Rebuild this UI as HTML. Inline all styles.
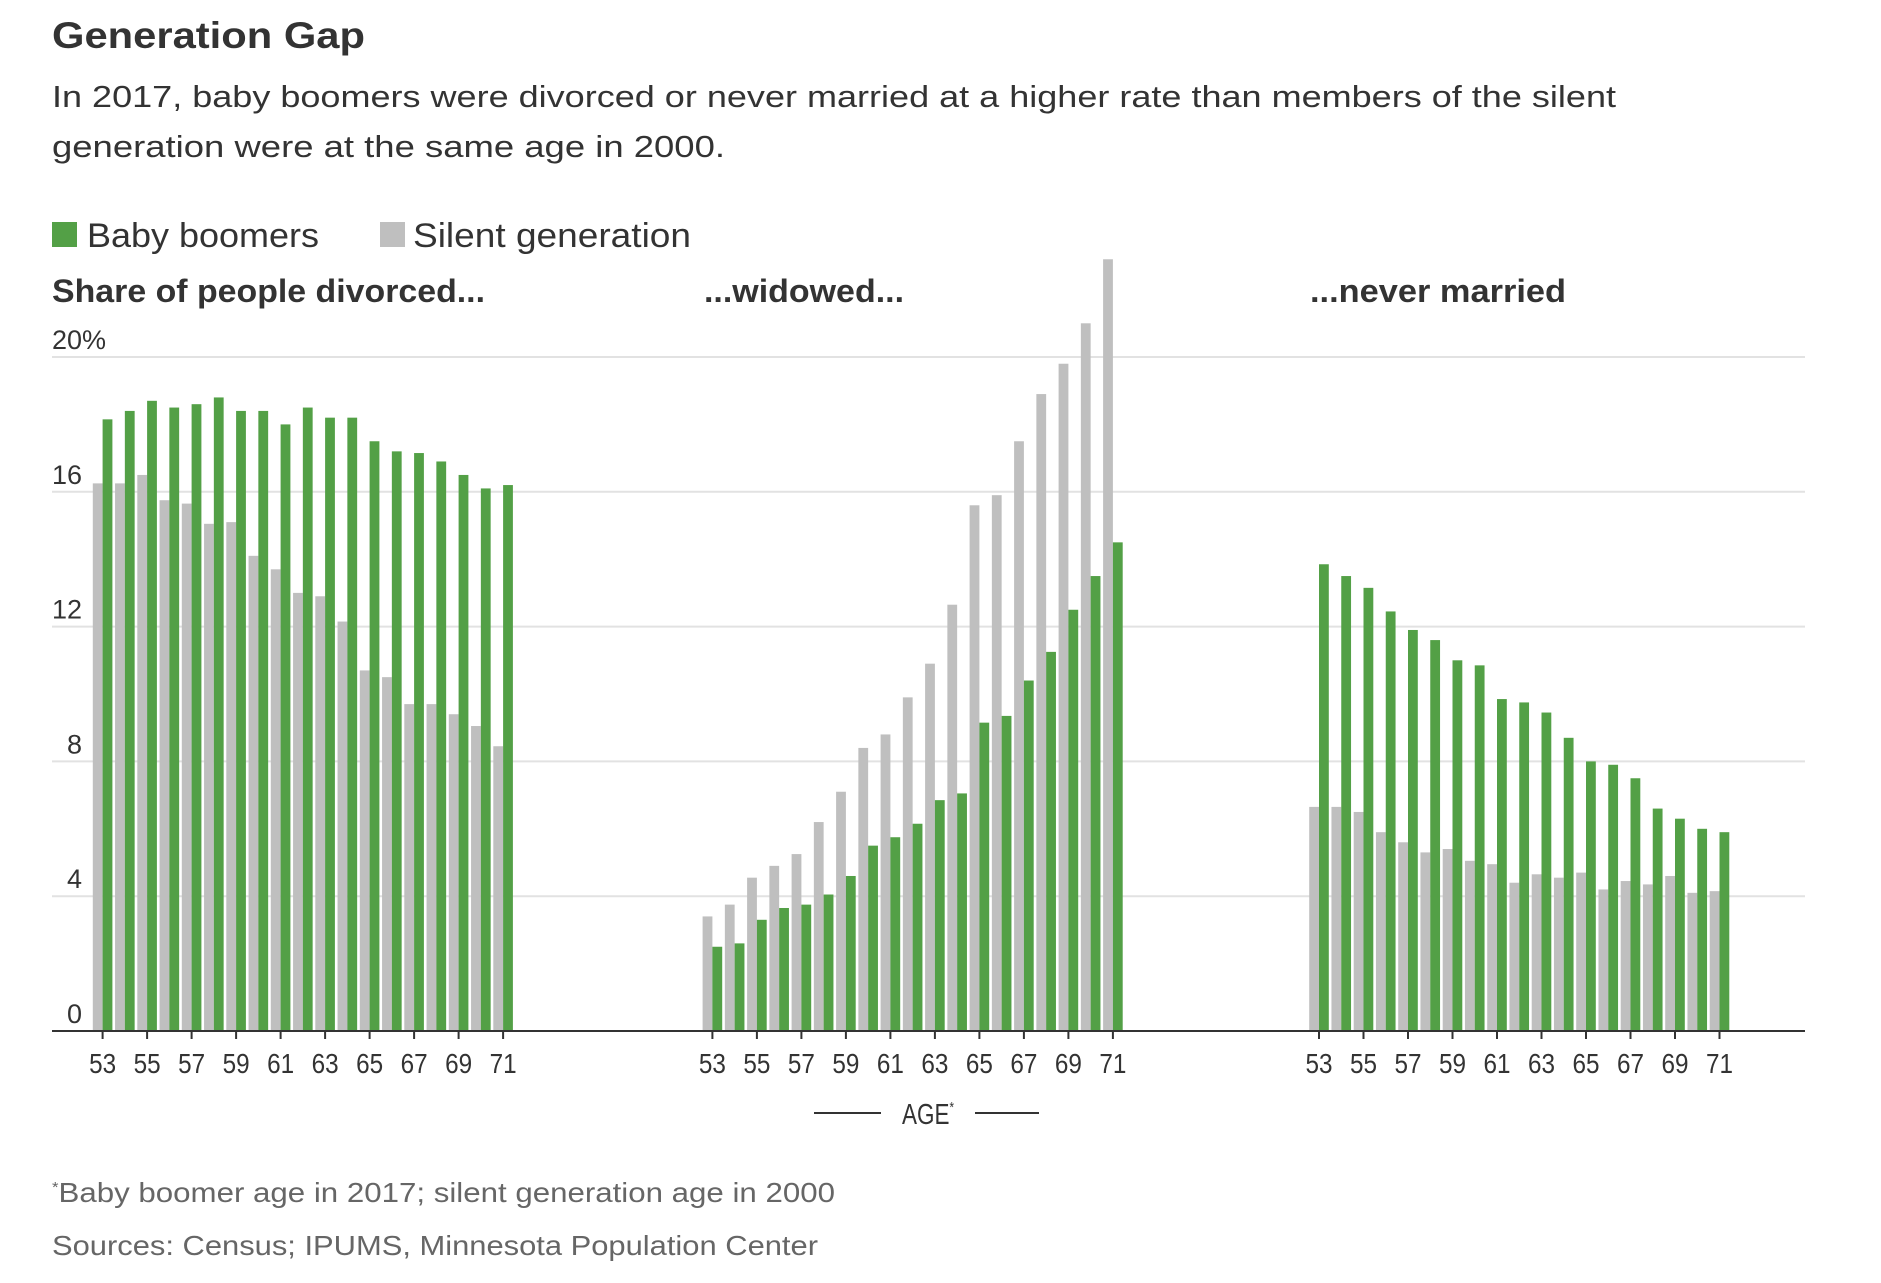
<!DOCTYPE html>
<html><head><meta charset="utf-8"><style>
html,body{margin:0;padding:0;background:#fff;}
svg{display:block;font-family:"Liberation Sans",sans-serif;}
</style></head><body>
<svg id="chart" width="1881" height="1283" viewBox="0 0 1881 1283" xmlns="http://www.w3.org/2000/svg">
<text x="52" y="48" font-size="37" font-weight="bold" fill="#333" textLength="313" lengthAdjust="spacingAndGlyphs">Generation Gap</text>
<text x="52" y="107" font-size="31" fill="#333" textLength="1564" lengthAdjust="spacingAndGlyphs">In 2017, baby boomers were divorced or never married at a higher rate than members of the silent</text>
<text x="52" y="157" font-size="31" fill="#333" textLength="673" lengthAdjust="spacingAndGlyphs">generation were at the same age in 2000.</text>
<g>
<rect x="52" y="222" width="25" height="25" fill="#53a046"/>
<text x="87" y="247" font-size="34" fill="#333" textLength="232" lengthAdjust="spacingAndGlyphs">Baby boomers</text>
<rect x="380" y="222" width="25" height="25" fill="#bfbfbf"/>
<text x="413" y="247" font-size="34" fill="#333" textLength="278" lengthAdjust="spacingAndGlyphs">Silent generation</text>
</g>
<text x="52" y="302" font-size="32" font-weight="bold" fill="#333" textLength="433" lengthAdjust="spacingAndGlyphs">Share of people divorced...</text>
<text x="704" y="302" font-size="32" font-weight="bold" fill="#333" textLength="200" lengthAdjust="spacingAndGlyphs">...widowed...</text>
<text x="1310" y="302" font-size="32" font-weight="bold" fill="#333" textLength="256" lengthAdjust="spacingAndGlyphs">...never married</text>
<g id="grid"></g>
<g id="bars"></g>
<g id="axis"></g>
<g>
<line x1="814" y1="1113" x2="881" y2="1113" stroke="#333" stroke-width="2"/>
<text x="928" y="1124" font-size="29" fill="#333" text-anchor="middle" textLength="52" lengthAdjust="spacingAndGlyphs">AGE<tspan font-size="15" dy="-12">*</tspan></text>
<line x1="975" y1="1113" x2="1039" y2="1113" stroke="#333" stroke-width="2"/>
</g>
<text x="52" y="1202" font-size="28" fill="#666" textLength="783" lengthAdjust="spacingAndGlyphs"><tspan font-size="15" dy="-10">*</tspan><tspan dy="10">Baby boomer age in 2017; silent generation age in 2000</tspan></text>
<text x="52" y="1255" font-size="28" fill="#666" textLength="766" lengthAdjust="spacingAndGlyphs">Sources: Census; IPUMS, Minnesota Population Center</text>
</svg>
<script>
const ages = [53,54,55,56,57,58,59,60,61,62,63,64,65,66,67,68,69,70,71];
const tickAges = [53,55,57,59,61,63,65,67,69,71];
const yTicks = [0,4,8,12,16,20];
const divorcedBoomers = [18.15,18.4,18.7,18.5,18.6,18.8,18.4,18.4,18.0,18.5,18.2,18.2,17.5,17.2,17.15,16.9,16.5,16.1,16.2];
const divorcedSilent = [16.25,16.25,16.5,15.75,15.65,15.05,15.1,14.1,13.7,13.0,12.9,12.15,10.7,10.5,9.7,9.7,9.4,9.05,8.45];
const widowedBoomers = [2.5,2.6,3.3,3.65,3.75,4.05,4.6,5.5,5.75,6.15,6.85,7.05,9.15,9.35,10.4,11.25,12.5,13.5,14.5];
const widowedSilent = [3.4,3.75,4.55,4.9,5.25,6.2,7.1,8.4,8.8,9.9,10.9,12.65,15.6,15.9,17.5,18.9,19.8,21.0,22.9];
const neverBoomers = [13.85,13.5,13.15,12.45,11.9,11.6,11.0,10.85,9.85,9.75,9.45,8.7,8.0,7.9,7.5,6.6,6.3,6.0,5.9];
const neverSilent = [6.65,6.65,6.5,5.9,5.6,5.3,5.4,5.05,4.95,4.4,4.65,4.55,4.7,4.2,4.45,4.35,4.6,4.1,4.15];

const NS='http://www.w3.org/2000/svg';
const Y0=1031, PXU=33.7, STEP=22.25, BW=9.8;
const yScale=v=>Y0-v*PXU;
const panels=[
 {name:'divorced',origin:102.6,boom:divorcedBoomers,silent:divorcedSilent},
 {name:'widowed',origin:712.4,boom:widowedBoomers,silent:widowedSilent},
 {name:'never-married',origin:1319,boom:neverBoomers,silent:neverSilent}
];
const xScale=(p,age)=>p.origin+(age-ages[0])*STEP;
function mk(tag,attrs,parent){const e=document.createElementNS(NS,tag);for(const k in attrs)e.setAttribute(k,attrs[k]);parent.appendChild(e);return e;}
const grid=document.getElementById('grid'),bars=document.getElementById('bars'),axis=document.getElementById('axis');
yTicks.forEach(t=>{
  if(t>0){const l=mk('line',{x1:52,x2:1805,y1:yScale(t),y2:yScale(t),stroke:'#e2e2e2','stroke-width':2},grid);
  
  }
  const tx=mk('text',{x:t===20?52:82,y:yScale(t)-8,'font-size':27,fill:'#333','text-anchor':t===20?'start':'end'},grid);
  tx.textContent=t===20?'20%':String(t);
  
  
});
const base=mk('line',{x1:52,x2:1805,y1:Y0,y2:Y0,stroke:'#333','stroke-width':2},axis);


panels.forEach(p=>{
  ages.forEach((a,i)=>{
    const x=xScale(p,a);
    const s=mk('rect',{x:x-BW,y:yScale(p.silent[i]),width:BW,height:p.silent[i]*PXU,fill:'#bfbfbf'},bars);
    
    
    const b=mk('rect',{x:x,y:yScale(p.boom[i]),width:BW,height:p.boom[i]*PXU,fill:'#53a046'},bars);
    
    
  });
  tickAges.forEach(a=>{
    const x=xScale(p,a);
    const tk=mk('line',{x1:x,x2:x,y1:Y0,y2:Y0+8,stroke:'#333','stroke-width':2},axis);
    
    
    const tl=mk('text',{x:x,y:1073,'font-size':28,fill:'#333','text-anchor':'middle',textLength:27,lengthAdjust:'spacingAndGlyphs'},axis);
    tl.textContent=String(a);
    
    
  });
});
</script>
</body></html>
